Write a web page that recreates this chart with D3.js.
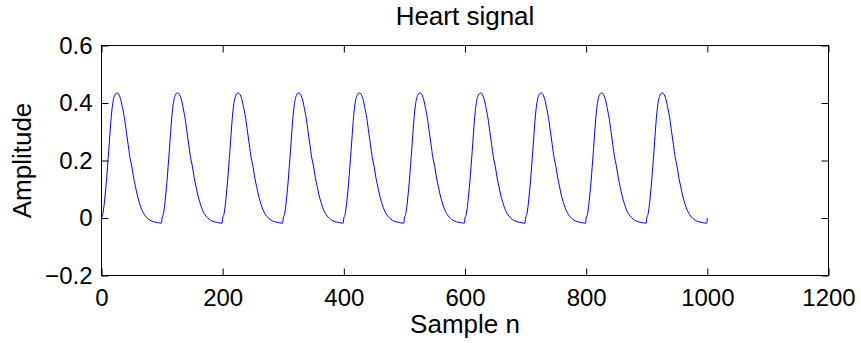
<!DOCTYPE html>
<html>
<head>
<meta charset="utf-8">
<script src="https://cdn.jsdelivr.net/npm/d3@7"></script>
<style>
	body { margin: 0; background: #fff; }
	svg { display: block; font-family: "Liberation Sans", Arial, Helvetica, sans-serif; }
	.tick line { stroke: #000; }
	.tick text { fill: #000; font-size: 24px; font-family: "Liberation Sans", Arial, sans-serif; }
</style>
</head>
<body>
<div id="chart"></div>
<script>
// one heartbeat (sample offset inside a period, amplitude)
var beatOffset = [0, 2, 4, 6, 8, 10, 12, 14, 16, 18, 20, 22, 24, 26, 29, 32, 35, 38, 41, 44, 47, 50, 53, 56, 59, 62, 65, 68, 71, 74, 78, 82, 86, 90, 94, 99];
var beatAmp = [0, 0.012, 0.04, 0.08, 0.125, 0.18, 0.235, 0.295, 0.35, 0.39, 0.415, 0.428, 0.434, 0.435, 0.428, 0.41, 0.38, 0.346, 0.30, 0.255, 0.21, 0.18, 0.14, 0.11, 0.08, 0.057, 0.037, 0.022, 0.011, 0.003, -0.005, -0.010, -0.013, -0.015, -0.017, -0.018];
// where each beat starts
var beatStart = [0, 100, 200, 300, 400, 500, 600, 700, 800, 900];
// last sample of the record
var lastSample = [1000, 0];

var xTicks = [0, 200, 400, 600, 800, 1000, 1200];
var yTicks = [-0.2, 0, 0.2, 0.4, 0.6];
var yTickLabels = ["\u22120.2", "0", "0.2", "0.4", "0.6"];

var W = 861, H = 343;
var box = { left: 101.5, right: 828.5, top: 45.5, bottom: 275.5 };

document.addEventListener("DOMContentLoaded", main);

function buildSignal() {
	var pts = [];
	beatStart.forEach(function (s) {
		beatOffset.forEach(function (o, i) {
			pts.push([s + o, beatAmp[i]]);
		});
	});
	pts.push(lastSample);
	return pts;
}

function main() {
	var svg = d3.select("#chart").append("svg")
		.attr("width", W)
		.attr("height", H);

	var x = d3.scaleLinear().domain([0, 1200]).range([box.left, box.right]);
	var y = d3.scaleLinear().domain([-0.2, 0.6]).range([box.bottom, box.top]);

	// inward ticks on all four sides, matlab style
	svg.append("g")
		.attr("transform", "translate(0," + box.bottom + ")")
		.call(d3.axisBottom(x).tickValues(xTicks).tickSize(-7).tickSizeOuter(0).tickPadding(13).tickFormat(d3.format("d")))
		.call(function (g) { g.select(".domain").remove(); });

	svg.append("g")
		.attr("transform", "translate(0," + box.top + ")")
		.call(d3.axisTop(x).tickValues(xTicks).tickSize(-7).tickSizeOuter(0).tickFormat(""))
		.call(function (g) { g.select(".domain").remove(); });

	svg.append("g")
		.attr("transform", "translate(" + box.left + ",0)")
		.call(d3.axisLeft(y).tickValues(yTicks).tickSize(-7).tickSizeOuter(0).tickPadding(9)
			.tickFormat(function (d, i) { return yTickLabels[i]; }))
		.call(function (g) { g.select(".domain").remove(); });

	svg.append("g")
		.attr("transform", "translate(" + box.right + ",0)")
		.call(d3.axisRight(y).tickValues(yTicks).tickSize(-7).tickSizeOuter(0).tickFormat(""))
		.call(function (g) { g.select(".domain").remove(); });

	svg.append("rect")
		.attr("x", box.left)
		.attr("y", box.top)
		.attr("width", box.right - box.left)
		.attr("height", box.bottom - box.top)
		.attr("fill", "none")
		.attr("stroke", "#000")
		.attr("stroke-width", 1);

	var line = d3.line()
		.x(function (d) { return x(d[0]); })
		.y(function (d) { return y(d[1]); })
		.curve(d3.curveMonotoneX);

	svg.append("path")
		.datum(buildSignal())
		.attr("d", line)
		.attr("fill", "none")
		.attr("stroke", "#0000ff")
		.attr("stroke-width", 1);

	svg.append("text")
		.attr("x", (box.left + box.right) / 2)
		.attr("y", 25)
		.attr("text-anchor", "middle")
		.attr("font-size", 26)
		.text("Heart signal");

	svg.append("text")
		.attr("x", (box.left + box.right) / 2)
		.attr("y", 333)
		.attr("text-anchor", "middle")
		.attr("font-size", 26)
		.text("Sample n");

	svg.append("text")
		.attr("transform", "translate(31," + (box.top + box.bottom) / 2 + ") rotate(-90)")
		.attr("text-anchor", "middle")
		.attr("font-size", 26)
		.text("Amplitude");
}
</script>
</body>
</html>
